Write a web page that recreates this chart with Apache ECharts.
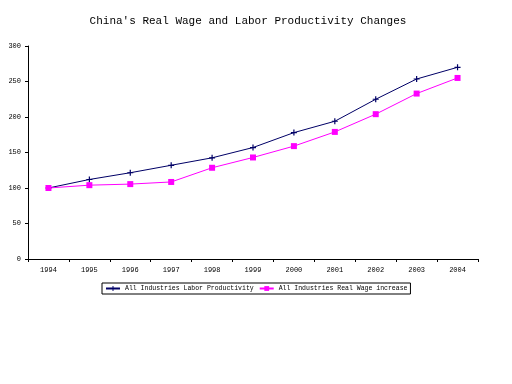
<!DOCTYPE html>
<html><head><meta charset="utf-8">
<script src="https://cdn.jsdelivr.net/npm/echarts@6/dist/echarts.min.js"></script>
<style>html,body{margin:0;padding:0;background:#fff}#c{width:512px;height:384px}</style>
</head><body><div id="c"></div>
<script>
const years = ['1994','1995','1996','1997','1998','1999','2000','2001','2002','2003','2004'];
const laborProductivity = [100, 112, 121.5, 132, 142.5, 157, 178, 194, 225, 253.5, 270];
const realWage = [100, 104, 105.5, 108.5, 128.5, 143, 159, 179, 204, 233, 255];
const yTicks = [0, 50, 100, 150, 200, 250, 300];

const chart = echarts.init(document.getElementById('c'));
const font = 'Liberation Mono, DejaVu Sans Mono, monospace';
chart.setOption({
  animation: false,
  backgroundColor: '#fff',
  title: {
    text: "China's Real Wage and Labor Productivity Changes",
    left: 243, top: 11, textAlign: 'center',
    textStyle: {fontFamily: font, fontSize: 11, fontWeight: 'normal', color: '#000'}
  },
  legend: {
    left: 102, top: 283, itemGap: 5, itemWidth: 14, itemHeight: 6,
    padding: [2, 3], borderColor: '#000', borderWidth: 1,
    textStyle: {fontFamily: font, fontSize: 6.5, color: '#000'},
    data: ['All Industries Labor Productivity', 'All Industries Real Wage increase']
  },
  grid: {left: 28, right: 34, top: 46, bottom: 125},
  xAxis: {
    type: 'category', data: years, boundaryGap: true,
    axisLine: {lineStyle: {color: '#000'}},
    axisTick: {show: true, lineStyle: {color: '#000'}, length: 3},
    axisLabel: {fontFamily: font, fontSize: 7, color: '#000', margin: 8}
  },
  yAxis: {
    type: 'value', min: yTicks[0], max: yTicks[yTicks.length - 1], interval: 50,
    axisLine: {show: true, lineStyle: {color: '#000'}},
    axisTick: {show: true, lineStyle: {color: '#000'}, length: 3},
    splitLine: {show: false},
    axisLabel: {fontFamily: font, fontSize: 7, color: '#000', margin: 7}
  },
  series: [
    {
      name: 'All Industries Labor Productivity', type: 'line', data: laborProductivity,
      symbol: 'path://M4,0 L6,0 L6,4 L10,4 L10,6 L6,6 L6,10 L4,10 L4,6 L0,6 L0,4 L4,4 Z',
      symbolSize: 6,
      lineStyle: {color: '#000066', width: 1},
      itemStyle: {color: '#000066'}
    },
    {
      name: 'All Industries Real Wage increase', type: 'line', data: realWage,
      symbol: 'rect', symbolSize: 6,
      lineStyle: {color: '#ff00ff', width: 1},
      itemStyle: {color: '#ff00ff'}
    }
  ]
});
</script></body></html>
